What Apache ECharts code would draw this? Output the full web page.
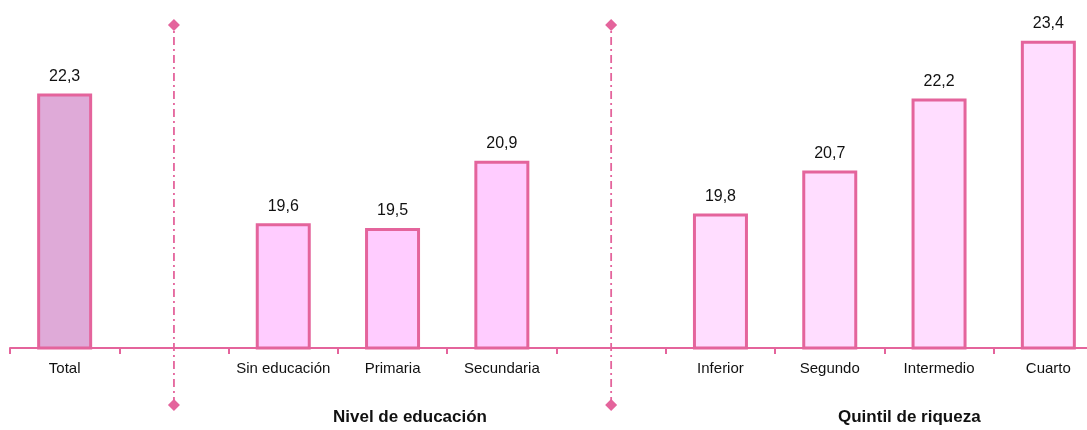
<!DOCTYPE html>
<html><head><meta charset="utf-8">
<script src="https://cdn.jsdelivr.net/npm/echarts@6/dist/echarts.min.js"></script>
<style>html,body{margin:0;padding:0;background:#fff;overflow:hidden;width:1087px;height:430px}#c{width:1103px;height:430px}</style>
</head><body><div id="c"></div>
<script>
const categories = ['Total', '', 'Sin educación', 'Primaria', 'Secundaria', '', 'Inferior', 'Segundo', 'Intermedio', 'Cuarto'];
const values = [22.3, null, 19.6, 19.5, 20.9, null, 19.8, 20.7, 22.2, 23.4];
const groupOf = ['total', 'sep', 'edu', 'edu', 'edu', 'sep', 'q', 'q', 'q', 'q'];
const separators = [1, 5];
const groupTitles = ['Nivel de educación', 'Quintil de riqueza'];

const fills = {total: '#DFAAD8', edu: '#FFCCFF', q: '#FFDDFF', sep: '#fff'};
const pink = '#E4649C';
const font = 'Liberation Sans, Arial';

const chart = echarts.init(document.getElementById('c'));
const barData = values.map((v, i) => v == null ? '-' : {
  value: v,
  itemStyle: {color: fills[groupOf[i]], borderColor: pink, borderWidth: 3}
});
const sepSeries = separators.map(idx => ({
  type: 'line', xAxisIndex: 1, yAxisIndex: 1,
  data: [[idx + 0.5, 0], [idx + 0.5, 1]],
  symbol: 'diamond', symbolSize: 12,
  itemStyle: {color: pink},
  lineStyle: {color: pink, width: 1.8, type: [8, 4, 2, 4]},
  silent: true, z: 1
}));

chart.setOption({
  animation: false,
  grid: [
    {left: 10, right: 0, top: 12, bottom: 82},
    {left: 10, right: 0, top: 25, bottom: 25}
  ],
  xAxis: [{
    type: 'category', data: categories, gridIndex: 0,
    axisLine: {lineStyle: {color: pink, width: 2}},
    axisTick: {show: true, length: 6, lineStyle: {color: pink, width: 2}},
    axisLabel: {color: '#111', fontFamily: font, fontSize: 15, margin: 13, interval: 0}
  }, {
    type: 'value', gridIndex: 1, min: 0, max: categories.length, show: false
  }],
  yAxis: [{
    type: 'value', gridIndex: 0, min: 17, max: 24, show: false, splitLine: {show: false}
  }, {
    type: 'value', gridIndex: 1, min: 0, max: 1, show: false
  }],
  series: [{
    type: 'bar', data: barData, barWidth: 55, z: 2,
    label: {
      show: true, position: 'top', distance: 9, color: '#111',
      fontFamily: font, fontSize: 16,
      formatter: p => String(p.value).replace('.', ',')
    }
  }].concat(sepSeries),
  graphic: [
    {type: 'text', left: 333, top: 409, style: {text: groupTitles[0], font: 'bold 17px Liberation Sans, Arial', fill: '#111'}},
    {type: 'text', left: 838, top: 409, style: {text: groupTitles[1], font: 'bold 17px Liberation Sans, Arial', fill: '#111'}}
  ]
});
</script></body></html>
